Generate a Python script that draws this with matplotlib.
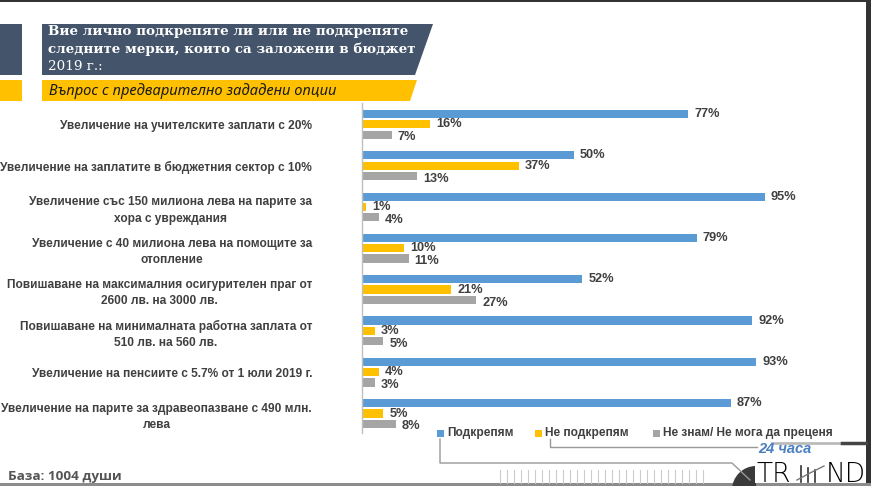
"""Budget 2019 measures - support survey bar chart."""
import matplotlib
matplotlib.use('Agg')
import matplotlib.pyplot as plt
from matplotlib.patches import Polygon, Rectangle, Wedge
import numpy as np

measures = [
    'Увеличение на учителските заплати с 20%',
    'Увеличение на заплатите в бюджетния сектор с 10%',
    'Увеличение със 150 милиона лева на парите за\nхора с увреждания',
    'Увеличение с 40 милиона лева на помощите за\nотопление',
    'Повишаване на максималния осигурителен праг от\n2600 лв. на 3000 лв.',
    'Повишаване на минималната работна заплата от\n510 лв. на 560 лв.',
    'Увеличение на пенсиите с 5.7% от 1 юли 2019 г.',
    'Увеличение на парите за здравеопазване с 490 млн.\nлева',
]
support = [77, 50, 95, 79, 52, 92, 93, 87]
oppose = [16, 37, 1, 10, 21, 3, 4, 5]
dont_know = [7, 13, 4, 11, 27, 5, 3, 8]
series_names = ['Подкрепям', 'Не подкрепям', 'Не знам/ Не мога да преценя']

title_lines = ['Вие лично подкрепяте ли или не подкрепяте',
               'следните мерки, които са заложени в бюджет']
title_year = '2019 г.:'
subtitle = 'Въпрос с предварително зададени опции'
base_note = 'База: 1004 души'

BLUE = '#5B9BD5'
YELLOW = '#FFC000'
GREY = '#A5A5A5'
DARK = '#44546A'
TXT = '#404040'
SANS = ['Liberation Sans', 'DejaVu Sans']

W, H = 871, 486
fig = plt.figure(figsize=(W / 100, H / 100), dpi=100)

# background / decoration layer in pixel coordinates
bg = fig.add_axes([0, 0, 1, 1])
bg.set_xlim(0, W)
bg.set_ylim(H, 0)
bg.axis('off')

bg.add_patch(Rectangle((0, 0), W, 2.5, color='#333333', lw=0))
bg.add_patch(Rectangle((866, 0), 5, H, color='#333333', lw=0))
bg.add_patch(Rectangle((0, 483), W, 3, color='#8c8c8c', lw=0))

# header boxes
bg.add_patch(Rectangle((0, 24), 22, 51, color=DARK, lw=0))
bg.add_patch(Polygon([(42, 24), (433, 24), (415, 75), (42, 75)], closed=True, color=DARK, lw=0))
bg.add_patch(Rectangle((0, 80), 22, 21, color=YELLOW, lw=0))
bg.add_patch(Polygon([(42, 80), (417, 80), (410, 101), (42, 101)], closed=True, color=YELLOW, lw=0))

bg.text(48, 32, title_lines[0], color='white', fontsize=9.7, fontweight='bold',
        family='DejaVu Serif', va='center')
bg.text(48, 49, title_lines[1], color='white', fontsize=9.7, fontweight='bold',
        family='DejaVu Serif', va='center')
bg.text(48, 66, title_year, color='white', fontsize=9.7,
        family='DejaVu Serif', va='center')
bg.text(49, 91, subtitle, color='#1a1a1a', fontsize=10.6, style='italic',
        family='Noto Sans', va='center')

bg.text(8, 476, base_note, color='#555555', fontsize=9.7, fontweight='bold',
        family=['Open Sans', 'Liberation Sans'], va='center')

# legend connector lines and bottom ornaments
bg.plot([440, 440, 732, 750], [439, 463, 463, 480], color='#999999', lw=1)
bg.plot([550, 550, 757], [439, 447, 447], color='#999999', lw=1)
for xs in np.arange(500, 708, 7):
    bg.plot([xs, xs], [470, 483], color='#cccccc', lw=0.8)
bg.add_patch(Wedge((756, 490), 24, 90, 270, color='#3a3a3a', lw=0))

# logo
bg.add_patch(Rectangle((755, 440), 111, 43, color='white', lw=0))
bg.plot([772, 842], [443, 443], color='#bbbbbb', lw=2)
bg.plot([842, 866], [443, 443], color='#444444', lw=2.5)
bg.text(758, 449, '24 часа', color='#4a7fc1', fontsize=10.5, fontweight='bold',
        style='italic', family=SANS, va='center')
bg.text(756, 482, 'TR', color='black', fontsize=19, fontweight='light',
        family='DejaVu Sans', va='baseline')
bg.text(826, 482, 'ND', color='black', fontsize=19, fontweight='light',
        family='DejaVu Sans', va='baseline')
for i, bx in enumerate([801, 808, 815]):
    bg.plot([bx, bx], [482, 466 + i * 2], color='#333333', lw=1.2)
bg.plot([797, 810, 824], [480, 473, 466], color='#777777', lw=1)

# main chart axes: x 0% at px 362, 4.24 px per %
x0, px_per = 362, 4.24
top_px, bot_px = 103, 433
ax = fig.add_axes([x0 / W, 1 - bot_px / H, 100 * px_per / W, (bot_px - top_px) / H])
ax.patch.set_alpha(0)

unit = 10.33  # pixels per y unit
y_top = (top_px - 114) / unit
y_bot = (bot_px - 114) / unit
ax.set_ylim(y_bot, y_top)
ax.set_xlim(0, 100)

groups = np.arange(len(measures)) * 4.0
bh = 0.8
for vals, off, col in [(support, 0, BLUE), (oppose, 1, YELLOW), (dont_know, 2, GREY)]:
    ax.barh(groups + off, vals, height=bh, color=col)
    for g, v in zip(groups, vals):
        dy = 0.25 if off == 2 else 0
        ax.text(v + 6 / px_per, g + off + dy, f'{v}%', va='center', ha='left',
                fontsize=9.2, fontweight='bold', color=TXT, family=SANS)

ax.set_yticks(groups + 1)
ax.set_yticklabels(measures, family=SANS, fontsize=8.6, fontweight='bold', color=TXT,
                   linespacing=1.45)
for lab in ax.get_yticklabels():
    lab.set_multialignment('center')
ax.tick_params(axis='y', length=0, pad=50 * 0.72)
ax.set_xticks([])
for s in ['top', 'right', 'bottom']:
    ax.spines[s].set_visible(False)
ax.spines['left'].set_color('#bfbfbf')
ax.spines['left'].set_linewidth(1)

# legend
leg_y = 433
leg_items = [(437, BLUE, series_names[0]), (535, YELLOW, series_names[1]), (653, GREY, series_names[2])]
for lx, col, name in leg_items:
    bg.add_patch(Rectangle((lx, leg_y - 3.5), 7, 7, color=col, lw=0))
    bg.text(lx + 10, leg_y, name, va='center', ha='left', fontsize=8.6,
            fontweight='bold', color=TXT, family=SANS)

fig.savefig('out.png', dpi=100)
